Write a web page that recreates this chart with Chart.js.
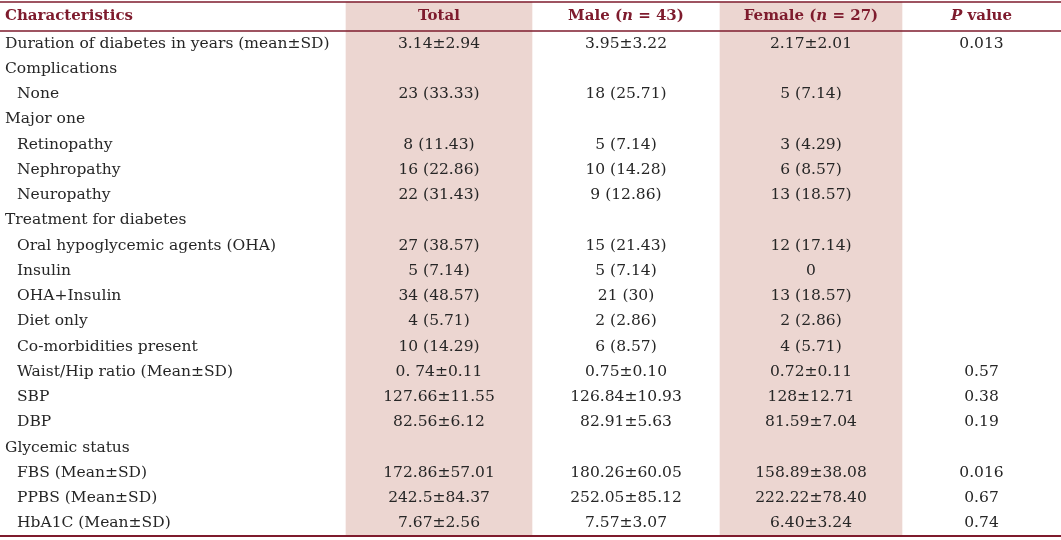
<!DOCTYPE html>
<html>
<head>
<meta charset="utf-8">
<script src="https://cdn.jsdelivr.net/npm/chart.js@4/dist/chart.umd.min.js"></script>
<style>
  html, body { margin: 0; padding: 0; background: #fff; }
  #wrap { position: relative; width: 1061px; height: 540px; }
</style>
</head>
<body>
<div id="wrap"><canvas id="tbl"></canvas></div>
<script>
// table content
const CHARACTERISTICS = [
    'Duration of diabetes in years (mean±SD)', 'Complications', 'None', 'Major one',
    'Retinopathy', 'Nephropathy', 'Neuropathy', 'Treatment for diabetes',
    'Oral hypoglycemic agents (OHA)', 'Insulin', 'OHA+Insulin', 'Diet only',
    'Co-morbidities present', 'Waist/Hip ratio (Mean±SD)', 'SBP', 'DBP',
    'Glycemic status', 'FBS (Mean±SD)', 'PPBS (Mean±SD)', 'HbA1C (Mean±SD)'
];
// 0 = group heading, 1 = sub item
const ROW_LEVEL = [0, 0, 1, 0, 1, 1, 1, 0, 1, 1, 1, 1, 1, 1, 1, 1, 0, 1, 1, 1];
const TOTAL = [
    '3.14±2.94', '', '23 (33.33)', '', '8 (11.43)', '16 (22.86)', '22 (31.43)', '',
    '27 (38.57)', '5 (7.14)', '34 (48.57)', '4 (5.71)', '10 (14.29)', '0. 74±0.11',
    '127.66±11.55', '82.56±6.12', '', '172.86±57.01', '242.5±84.37', '7.67±2.56'
];
const MALE = [
    '3.95±3.22', '', '18 (25.71)', '', '5 (7.14)', '10 (14.28)', '9 (12.86)', '',
    '15 (21.43)', '5 (7.14)', '21 (30)', '2 (2.86)', '6 (8.57)', '0.75±0.10',
    '126.84±10.93', '82.91±5.63', '', '180.26±60.05', '252.05±85.12', '7.57±3.07'
];
const FEMALE = [
    '2.17±2.01', '', '5 (7.14)', '', '3 (4.29)', '6 (8.57)', '13 (18.57)', '',
    '12 (17.14)', '0', '13 (18.57)', '2 (2.86)', '4 (5.71)', '0.72±0.11',
    '128±12.71', '81.59±7.04', '', '158.89±38.08', '222.22±78.40', '6.40±3.24'
];
const P_VALUE = [
    '0.013', '', '', '', '', '', '', '', '', '', '', '', '', '0.57',
    '0.38', '0.19', '', '0.016', '0.67', '0.74'
];
// header pieces: [text, italic]
const HEADERS = [
    [['Characteristics', false]],
    [['Total', false]],
    [['Male (', false], ['n', true], [' = 43)', false]],
    [['Female (', false], ['n', true], [' = 27)', false]],
    [['P', true], [' value', false]]
];
const SHADED = [false, true, false, true, false];

// layout
const COL_WIDTHS = [346, 186, 188, 182, 159];
const HEADER_H = 1.15;   // in row units
const FONT = '"DejaVu Serif", "Liberation Serif", serif';
const RED = '#7e1b2d';
const SHADE = '#ecd6d1';

const edges = [0];
COL_WIDTHS.forEach(w => edges.push(edges[edges.length - 1] + w));
const columns = [CHARACTERISTICS, TOTAL, MALE, FEMALE, P_VALUE];
const nRows = CHARACTERISTICS.length;

const shadeSets = [];
SHADED.forEach((on, i) => {
    if (!on) return;
    shadeSets.push({
        data: [{ x: (edges[i] + edges[i + 1]) / 2, y: [-HEADER_H, nRows] }],
        backgroundColor: SHADE,
        borderWidth: 0,
        barThickness: COL_WIDTHS[i],
        grouped: false
    });
});

const tablePlugin = {
    id: 'tableText',
    afterDatasetsDraw(chart) {
        const ctx = chart.ctx;
        const xs = chart.scales.x, ys = chart.scales.y;
        ctx.save();

        // rules
        ctx.strokeStyle = RED;
        [[-HEADER_H, 1.6], [0, 1.6], [nRows, 2]].forEach(([v, w]) => {
            const py = ys.getPixelForValue(v);
            ctx.lineWidth = w;
            ctx.beginPath();
            ctx.moveTo(xs.left, py);
            ctx.lineTo(xs.right, py);
            ctx.stroke();
        });

        // header
        ctx.textBaseline = 'middle';
        ctx.fillStyle = RED;
        const hy = ys.getPixelForValue(-HEADER_H / 2);
        HEADERS.forEach((pieces, c) => {
            const fontOf = it => (it ? 'italic ' : '') + 'bold 15px ' + FONT;
            let total = 0;
            pieces.forEach(([t, it]) => { ctx.font = fontOf(it); total += ctx.measureText(t).width; });
            let x = c === 0 ? xs.getPixelForValue(5)
                : xs.getPixelForValue((edges[c] + edges[c + 1]) / 2) - total / 2;
            ctx.textAlign = 'left';
            pieces.forEach(([t, it]) => {
                ctx.font = fontOf(it);
                ctx.fillText(t, x, hy);
                x += ctx.measureText(t).width;
            });
        });

        // body
        ctx.fillStyle = '#262626';
        ctx.font = '15.5px ' + FONT;
        for (let r = 0; r < nRows; r++) {
            const py = ys.getPixelForValue(r + 0.5);
            columns.forEach((col, c) => {
                const t = col[r];
                if (!t) return;
                if (c === 0) {
                    ctx.textAlign = 'left';
                    ctx.fillText(t, xs.getPixelForValue(ROW_LEVEL[r] ? 17 : 5), py);
                } else {
                    ctx.textAlign = 'center';
                    ctx.fillText(t, xs.getPixelForValue((edges[c] + edges[c + 1]) / 2), py);
                }
            });
        }
        ctx.restore();
    }
};

const unit = 25.25;
new Chart(document.getElementById('tbl'), {
    type: 'bar',
    data: { datasets: shadeSets },
    options: {
        responsive: true,
        maintainAspectRatio: false,
        animation: false,
        layout: { padding: 0 },
        plugins: { legend: { display: false }, tooltip: { enabled: false } },
        scales: {
            x: { type: 'linear', offset: false, bounds: 'ticks', min: 0, max: edges[edges.length - 1], display: false },
            y: {
                type: 'linear', reverse: true, display: false,
                min: -HEADER_H - 2 / unit, max: nRows + 4 / unit
            }
        }
    },
    plugins: [tablePlugin]
});
</script>
</body>
</html>
